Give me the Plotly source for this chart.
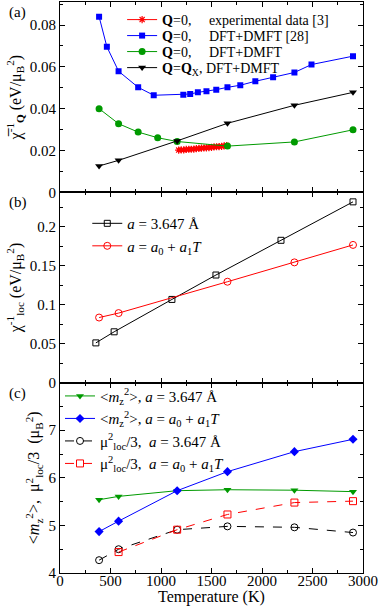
import plotly.graph_objects as go
from plotly.subplots import make_subplots

# panel (a): inverse uniform / Q_X susceptibility
t_exp = [1175, 1200, 1225, 1250, 1275, 1300, 1325, 1350, 1375, 1400,
         1425, 1450, 1475, 1500, 1525, 1550, 1575, 1600, 1625, 1650]
chi_exp = [0.0202, 0.0203, 0.0203, 0.0205, 0.0206, 0.0206, 0.0207, 0.0209, 0.0210, 0.0211,
           0.0212, 0.0213, 0.0214, 0.0215, 0.0217, 0.0218, 0.0219, 0.0220, 0.0222, 0.0224]

t_ref28 = [387, 464, 580, 774, 928, 1221, 1289, 1365, 1450, 1547,
           1658, 1785, 1934, 2110, 2321, 2490, 2901]
chi_ref28 = [0.0840, 0.0696, 0.0579, 0.0502, 0.0464, 0.0467, 0.0470, 0.0478, 0.0483, 0.0491,
             0.0502, 0.0512, 0.0531, 0.0550, 0.0573, 0.0611, 0.0651]

t_q0 = [387, 580, 774, 967, 1160, 1658, 2321, 2901]
chi_q0 = [0.0400, 0.0328, 0.0288, 0.0261, 0.0243, 0.0221, 0.0241, 0.0299]

t_qx = [387, 580, 1160, 1658, 2321, 2901]
chi_qx = [0.0126, 0.0153, 0.0246, 0.0330, 0.0416, 0.0478]

# panel (b): inverse local susceptibility
t_loc_fix = [355, 536, 1108, 1544, 2188, 2901]
chi_loc_fix = [0.0510, 0.0652, 0.1067, 0.1380, 0.1825, 0.2318]
t_loc_exp = [387, 580, 1658, 2321, 2901]
chi_loc_exp = [0.0835, 0.0892, 0.1294, 0.1542, 0.1766]

# panel (c): moments
t_mom = [387, 580, 1160, 1658, 2321, 2901]
mz_fix = [5.54, 5.61, 5.73, 5.75, 5.74, 5.71]
mz_exp = [4.87, 5.09, 5.73, 6.13, 6.55, 6.81]
mu_fix = [4.27, 4.50, 4.91, 4.98, 4.96, 4.85]
t_mu_exp = [580, 1160, 1658, 2321, 2901]
mu_exp = [4.44, 4.91, 5.23, 5.48, 5.51]

serif = "Liberation Serif"
green = "#009a00"
sp = "\u00a0"

fig = make_subplots(rows=3, cols=1, shared_xaxes=True, vertical_spacing=0)

# (a) -- one legend per row so the rows can sit as close as in the original
fig.add_scatter(x=t_exp, y=chi_exp, mode="lines+markers", row=1, col=1,
                name="<b>Q</b>=0," + sp * 5 + "experimental data [3]",
                line=dict(color="red", width=1),
                marker=dict(symbol="asterisk-open", size=6, color="red",
                            line=dict(color="red", width=1.2)), legend="legend")
fig.add_scatter(x=t_ref28, y=chi_ref28, mode="lines+markers", row=1, col=1,
                name="<b>Q</b>=0," + sp * 5 + "DFT+DMFT [28]",
                line=dict(color="blue", width=1),
                marker=dict(symbol="square", size=6, color="blue"), legend="legend4")
fig.add_scatter(x=t_q0, y=chi_q0, mode="lines+markers", row=1, col=1,
                name="<b>Q</b>=0," + sp * 5 + "DFT+DMFT",
                line=dict(color=green, width=1),
                marker=dict(symbol="circle", size=7, color=green), legend="legend5")
fig.add_scatter(x=t_qx, y=chi_qx, mode="lines+markers", row=1, col=1,
                name="<b>Q</b>=<b>Q</b><sub>X</sub>, DFT+DMFT",
                line=dict(color="black", width=1),
                marker=dict(symbol="triangle-down", size=7, color="black"), legend="legend6")

# (b)
fig.add_scatter(x=t_loc_fix, y=chi_loc_fix, mode="lines+markers", row=2, col=1,
                name="<i>a</i> = 3.647 Å",
                line=dict(color="black", width=1),
                marker=dict(symbol="square-open", size=6, color="black"), legend="legend2")
fig.add_scatter(x=t_loc_exp, y=chi_loc_exp, mode="lines+markers", row=2, col=1,
                name="<i>a</i> = <i>a</i><sub>0</sub> + <i>a</i><sub>1</sub><i>T</i>",
                line=dict(color="red", width=1),
                marker=dict(symbol="circle-open", size=7, color="red"), legend="legend2")

# (c)
fig.add_scatter(x=t_mom, y=mz_fix, mode="lines+markers", row=3, col=1,
                name="&lt;<i>m</i><sub>z</sub><sup>2</sup>&gt;, <i>a</i> = 3.647 Å",
                line=dict(color=green, width=1),
                marker=dict(symbol="triangle-down", size=7, color=green), legend="legend3")
fig.add_scatter(x=t_mom, y=mz_exp, mode="lines+markers", row=3, col=1,
                name="&lt;<i>m</i><sub>z</sub><sup>2</sup>&gt;, <i>a</i> = <i>a</i><sub>0</sub> + <i>a</i><sub>1</sub><i>T</i>",
                line=dict(color="blue", width=1),
                marker=dict(symbol="diamond", size=7, color="blue"), legend="legend3")
fig.add_scatter(x=t_mom, y=mu_fix, mode="lines+markers", row=3, col=1,
                name="μ<sup>2</sup><sub>loc</sub>/3,  <i>a</i> = 3.647 Å",
                line=dict(color="black", width=1, dash="dash"),
                marker=dict(symbol="circle-open", size=7, color="black"), legend="legend3")
fig.add_scatter(x=t_mu_exp, y=mu_exp, mode="lines+markers", row=3, col=1,
                name="μ<sup>2</sup><sub>loc</sub>/3,  <i>a</i> = <i>a</i><sub>0</sub> + <i>a</i><sub>1</sub><i>T</i>",
                line=dict(color="red", width=1, dash="dash"),
                marker=dict(symbol="square-open", size=7, color="red"), legend="legend3")

fig.update_traces(showlegend=True)

axis_style = dict(showline=True, linecolor="black", linewidth=1.2, mirror="ticks",
                  ticks="inside", ticklen=5, tickcolor="black", showgrid=False,
                  zeroline=False, automargin=False,
                  tickfont=dict(family=serif, size=15, color="black"))
minor_x = dict(ticks="inside", ticklen=3, dtick=250, tickcolor="black", showgrid=False)

for r in (1, 2, 3):
    fig.update_xaxes(axis_style, row=r, col=1, range=[0, 3000], dtick=500,
                     minor=minor_x, showticklabels=(r == 3))
fig.update_xaxes(ticklabelstandoff=-6, row=3, col=1)

fig.update_yaxes(axis_style, row=1, col=1, range=[0, 0.091],
                 tickvals=[0, 0.02, 0.04, 0.06, 0.08],
                 ticktext=["0", "0.02", "0.04", "0.06", "0.08"],
                 minor=dict(ticks="inside", ticklen=3, dtick=0.01, tickcolor="black"),
                 title=dict(text="χ̅<sup>-1</sup><sub><b>Q</b></sub> (eV/μ<sub>B</sub><sup>2</sup>)",
                            font=dict(family=serif, size=16), standoff=4))
fig.update_yaxes(axis_style, row=2, col=1, range=[0, 0.244],
                 tickvals=[0, 0.05, 0.1, 0.15, 0.2],
                 ticktext=["0", "0.05", "0.1", "0.15", "0.2"],
                 minor=dict(ticks="inside", ticklen=3, dtick=0.025, tickcolor="black"),
                 title=dict(text="χ<sup>-1</sup><sub>loc</sub> (eV/μ<sub>B</sub><sup>2</sup>)",
                            font=dict(family=serif, size=16), standoff=4))
fig.update_yaxes(axis_style, row=3, col=1, range=[4, 8], tickvals=[4, 5, 6, 7],
                 minor=dict(ticks="inside", ticklen=3, dtick=0.5, tickcolor="black"),
                 title=dict(text="&lt;<i>m</i><sub>z</sub><sup>2</sup>&gt;,  μ<sup>2</sup><sub>loc</sub>/3  (μ<sub>B</sub><sup>2</sup>)",
                            font=dict(family=serif, size=16), standoff=4))

legend_common = dict(bgcolor="rgba(0,0,0,0)", xanchor="left",
                     tracegroupgap=0, itemwidth=30)
leg_a = dict(legend_common, x=0.205, yanchor="top", font=dict(family=serif, size=14))
fig.update_layout(
    width=379, height=607,
    margin=dict(l=60, r=16, t=2, b=34),
    plot_bgcolor="white", paper_bgcolor="white",
    font=dict(family=serif, color="black"),
    showlegend=True,
    legend=dict(leg_a, y=0.9965),
    legend4=dict(leg_a, y=0.9685),
    legend5=dict(leg_a, y=0.9405),
    legend6=dict(leg_a, y=0.9124),
    legend2=dict(legend_common, x=0.09, y=0.5927, yanchor="middle",
                 font=dict(family=serif, size=15)),
    legend3=dict(legend_common, x=0.0, y=0.251, yanchor="middle",
                 font=dict(family=serif, size=15)),
    annotations=[
        dict(text="(a)", x=-0.175, y=1.0, xref="paper", yref="paper", showarrow=False,
             xanchor="left", yanchor="top", font=dict(family=serif, size=15)),
        dict(text="(b)", x=-0.175, y=0.667, xref="paper", yref="paper", showarrow=False,
             xanchor="left", yanchor="top", font=dict(family=serif, size=15)),
        dict(text="(c)", x=-0.175, y=0.333, xref="paper", yref="paper", showarrow=False,
             xanchor="left", yanchor="top", font=dict(family=serif, size=15)),
        dict(text="Temperature (K)", x=0.5, y=-0.042, xref="paper", yref="paper",
             showarrow=False, xanchor="center", yanchor="middle",
             font=dict(family=serif, size=16)),
    ],
)

fig.write_html("out.html", config={"displayModeBar": False},
               post_script="document.body.style.margin='0';")
